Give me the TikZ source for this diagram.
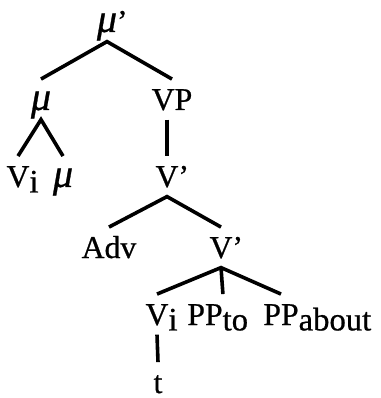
\documentclass[tikz,border=0pt]{standalone}
\usepackage{fontspec}
\setmainfont{Liberation Serif}[FakeBold=0.7]
\usepackage{tikz}
\tikzstyle{tree}=[x=0.75pt, y=-0.75pt, font=\fontsize{23.8}{28}\selectfont]
\tikzstyle{cat}=[anchor=base, inner sep=0pt, text height=23pt, text depth=7pt]
\tikzstyle{branch}=[line width=2.7pt]
\newcommand{\lo}[1]{\rlap{\raisebox{-0.17em}{\fontsize{24.5}{24}\selectfont #1}}}
\newcommand{\pr}{\rlap{’}}
\newcommand{\mmu}{{\fontsize{30}{30}\selectfont\textit{μ}}}
\begin{document}
\begin{tikzpicture}[tree]
	\useasboundingbox (0,0) rectangle (380,398);
	\draw (107,32) node[cat, text height=20pt] (mup) {\mmu\pr};
	\draw (41,110) node[cat] (mu) {\mmu};
	\draw (172,110) node[cat] (vp) {VP};
	\draw (18,187) node[cat] (vi1) {V\lo{i}};
	\draw (63,187) node[cat] (mu2) {\mmu};
	\draw (167,187) node[cat] (vb1) {V\pr};
	\draw (109,258) node[cat] (adv) {Adv};
	\draw (221,258) node[cat] (vb2) {V\pr};
	\draw (157,325) node[cat] (vi2) {V\lo{i}};
	\draw (205,325) node[cat] (ppto) {PP\lo{to}};
	\draw (281,325) node[cat] (ppab) {PP\lo{about}};
	\draw (158,393) node[cat] (t) {t};
	% branches
	\draw[branch] (mu.north) -- (mup.south) -- (vp.north);
	\draw[branch] (vi1.north) -- (mu.south) -- (mu2.north);
	\draw[branch] (vb1.north |- vp.south) -- (vb1.north);
	\draw[branch] (adv.north) -- (vb1.south) -- (vb2.north);
	\draw[branch] (vi2.north) -- (vb2.south) -- (ppab.north);
	\draw[branch] (vb2.south) -- (ppto.north east);
	\draw[branch] (vi2.south) -- (t.north);
\end{tikzpicture}
\end{document}
